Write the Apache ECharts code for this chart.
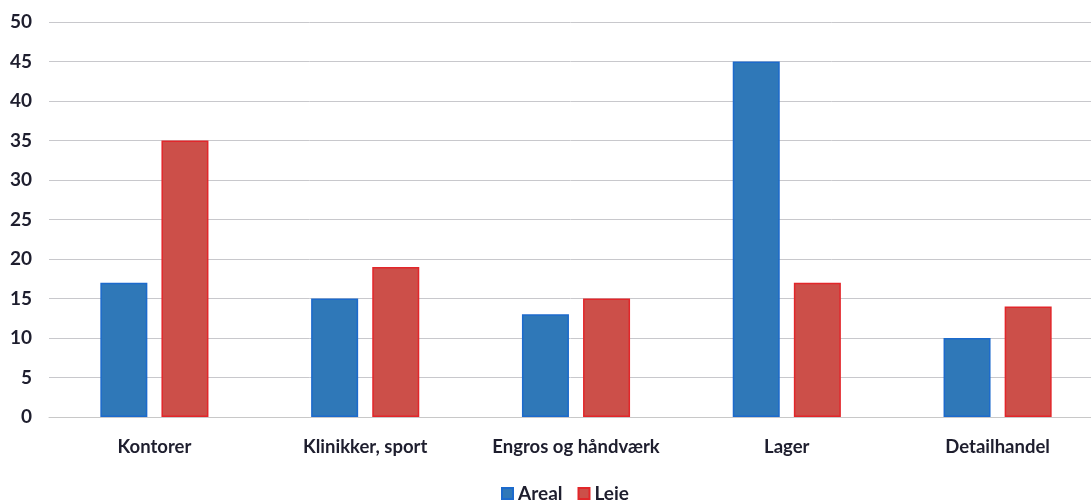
<!DOCTYPE html>
<html><head><meta charset="utf-8">
<script src="https://cdn.jsdelivr.net/npm/echarts@6/dist/echarts.min.js"></script>
<style>html,body{margin:0;padding:0;background:#fff}#c{width:1091px;height:500px}</style>
</head><body><div id="c"></div>
<script>
const categories = ['Kontorer', 'Klinikker, sport', 'Engros og håndværk', 'Lager', 'Detailhandel'];
const areal = [17, 15, 13, 45, 10];
const leje = [35, 19, 15, 17, 14];
const seriesNames = ['Areal', 'Leje'];

const chart = echarts.init(document.getElementById('c'));
const font = 'Lato, "Open Sans", sans-serif';
chart.setOption({
  animation: false,
  textStyle: {fontFamily: font},
  grid: {left: 49, width: 1054, top: 22, height: 395, containLabel: false, outerBoundsMode: 'none'},
  legend: {
    data: seriesNames, top: 484, left: 501, padding: 0,
    itemWidth: 11, itemHeight: 11, itemGap: 15, icon: 'rect',
    textStyle: {fontSize: 19, fontWeight: 'bold', color: '#1e1e2e', fontFamily: font}
  },
  xAxis: {
    type: 'category', data: categories,
    axisLine: {show: true, lineStyle: {color: '#c8c8c8', width: 1}},
    axisTick: {show: false},
    axisLabel: {fontSize: 18.5, fontWeight: 'bold', color: '#1e1e2e', margin: 21, interval: 0, fontFamily: font}
  },
  yAxis: {
    type: 'value', min: 0, max: 50, interval: 5,
    axisLine: {show: false}, axisTick: {show: false},
    axisLabel: {fontSize: 19, fontWeight: 'bold', color: '#1e1e2e', margin: 17, fontFamily: font},
    splitLine: {lineStyle: {color: '#c8c8cc', width: 1}}
  },
  series: [
    {name: seriesNames[0], type: 'bar', data: areal, barWidth: '22.3%', barGap: '30%',
     itemStyle: {color: '#2f78b8', borderColor: '#1c6acc', borderWidth: 1.5}},
    {name: seriesNames[1], type: 'bar', data: leje, barWidth: '22.3%',
     itemStyle: {color: '#cc4f49', borderColor: '#e2262a', borderWidth: 1.5}}
  ]
});
</script></body></html>
